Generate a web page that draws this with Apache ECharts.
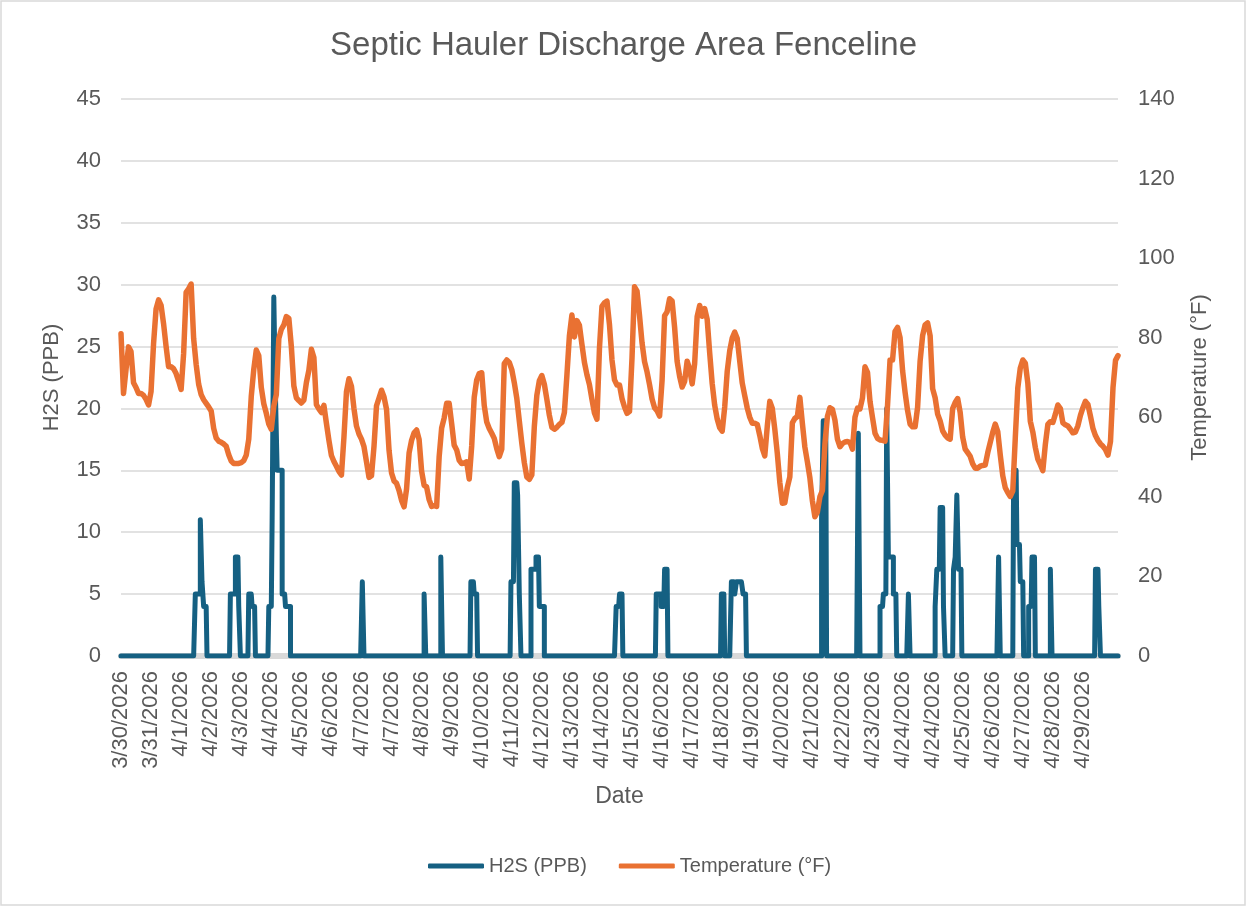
<!DOCTYPE html>
<html style="height: 100%">
<head>
<meta charset="utf-8">
<script type="text/javascript" src="https://cdn.jsdelivr.net/npm/echarts@6.0.0/dist/echarts.min.js"></script>
</head>
<body style="height: 100%; margin: 0">
<div id="container" style="width: 1247px; height: 907px"></div>
<script type="text/javascript">
var chartTitle = 'Septic Hauler Discharge Area Fenceline';

// one label every 12 temperature readings
var dateLabels = ['3/30/2026', '3/31/2026', '4/1/2026', '4/2/2026', '4/3/2026', '4/4/2026', '4/5/2026',
	'4/6/2026', '4/7/2026', '4/7/2026', '4/8/2026', '4/9/2026', '4/10/2026', '4/11/2026', '4/12/2026',
	'4/13/2026', '4/14/2026', '4/15/2026', '4/16/2026', '4/17/2026', '4/18/2026', '4/19/2026', '4/20/2026',
	'4/21/2026', '4/22/2026', '4/23/2026', '4/24/2026', '4/24/2026', '4/25/2026', '4/26/2026', '4/27/2026',
	'4/28/2026', '4/29/2026'];
var perLabel = 12;

var tempF = [
	81, 66, 72, 77.7, 76.5, 68.7, 67.5, 66, 66, 65.5,
	64.5, 63.1, 66.5, 78.5, 87.2, 89.5, 88.1, 83.5, 77.8, 72.7,
	72.7, 72.2, 71, 69.1, 67, 76, 91.4, 92.3, 93.5, 79.8,
	73.3, 68.3, 65.7, 64.4, 63.5, 62.6, 61.6, 57.2, 54.8, 54,
	53.7, 53.3, 52.7, 50.6, 49, 48.4, 48.4, 48.4, 48.6, 49.1,
	50.5, 54.5, 65.2, 72, 76.9, 75.5, 67.5, 63.4, 61, 58.3,
	57, 62.8, 65.7, 79.8, 82.1, 83.2, 85.3, 84.9, 77.8, 67.9,
	64.9, 64.2, 63.6, 64.3, 68.7, 71.8, 77.1, 75, 63.2, 62.1,
	61.2, 63, 58.5, 54.2, 50.4, 48.9, 47.7, 46.4, 45.5, 55,
	66.4, 69.7, 67.8, 62.2, 57.8, 55.8, 54.5, 52.6, 48.8, 44.9,
	45.3, 52.7, 62.9, 64.8, 66.8, 65.1, 62, 51.7, 46, 44,
	43.4, 41.6, 39.1, 37.5, 42, 51, 54.2, 56.1, 56.8, 54.4,
	46.5, 42.9, 42.5, 39.3, 37.6, 37.8, 37.6, 50, 57.3, 59.8,
	63.5, 63.5, 58.4, 53, 51.8, 49.2, 48.4, 48.5, 48.8, 44.5,
	52.8, 65, 69.4, 71, 71.2, 63, 58.8, 57.2, 56, 54.7,
	52.1, 50.1, 52, 73.5, 74.4, 73.8, 72, 68.7, 64.8, 59.1,
	53.5, 48.6, 45, 44.4, 45.5, 57.7, 65.5, 69.2, 70.5, 68.3,
	64.5, 60.5, 57.5, 57, 57.5, 58.2, 58.7, 61.2, 70.5, 80.5,
	85.7, 80.2, 84.3, 83.1, 78.3, 73.8, 70.7, 68.2, 64.5, 61.1,
	59.5, 77.3, 87.9, 88.8, 89.2, 83.3, 74.4, 69.4, 68.1, 68.1,
	64.7, 62.6, 61, 61.5, 75, 92.8, 91.7, 85.5, 78.7, 74,
	71.4, 68.2, 64.6, 62.4, 61.6, 60.3, 69.3, 85.5, 86.5, 89.8,
	89.2, 82.6, 74.1, 70.3, 67.6, 69, 74.1, 72.1, 68.4, 73.5,
	85.3, 88.1, 85.4, 87.3, 84.6, 76.2, 68.5, 63, 59.6, 57.4,
	56.5, 62.6, 71.5, 76.7, 79.9, 81.4, 79.8, 74.1, 68.6, 65.4,
	62.3, 60, 58.5, 58.5, 58.2, 55.4, 52.2, 50.3, 57.8, 64,
	62.2, 57, 50.9, 43.6, 38.4, 38.5, 42.4, 45, 58.6, 59.7,
	60.2, 65, 58.5, 52.5, 48.8, 44.8, 39, 35, 36.2, 40,
	41.6, 53.2, 60.2, 62.4, 62, 59.3, 54.5, 52.6, 53.4, 53.8,
	53.9, 53.7, 52, 60, 62.3, 62.1, 64.9, 72.7, 71.3, 64,
	59.9, 56, 54.7, 54.3, 54.2, 54, 63, 74.4, 74.4, 81.6,
	82.6, 80, 71.8, 66.3, 61.7, 58.3, 57.6, 57.6, 62.5, 74.1,
	80.5, 83.2, 83.7, 80.5, 67.2, 64.9, 60.8, 59.1, 56.6, 55.5,
	54.8, 54.5, 62.2, 63.7, 64.7, 61.2, 55, 52, 51.1, 50.2,
	48.3, 47.2, 47.2, 47.7, 47.9, 48, 51.1, 53.7, 56.2, 58.3,
	56.4, 50.5, 45.3, 42.3, 41.1, 40.1, 41.5, 54.8, 67.4, 72.4,
	74.4, 73.6, 68.6, 59, 56.3, 52.4, 49.5, 48.1, 46.6, 53.2,
	58.2, 58.9, 58.7, 60.8, 63.1, 62.2, 58.6, 58.1, 57.8, 57,
	56.1, 56.3, 57.9, 60.5, 62.4, 64, 63.2, 60.3, 57.2, 55.4,
	54.2, 53.3, 52.7, 51.9, 50.5, 53.9, 67.4, 74.3, 75.5
];

// H2S readings over the same span (598 in all); readings not listed are 0 ppb
var h2sCount = 598;
var h2sReadings = [
	[45, 5], [46, 5], [47, 5], [48, 11], [49, 6], [50, 4], [51, 4],
	[66, 5], [67, 5], [68, 5], [69, 8], [70, 8], [71, 4],
	[77, 5], [78, 5], [79, 4], [80, 4],
	[89, 4], [90, 4], [91, 11], [92, 29], [93, 21], [94, 15], [95, 15], [96, 15], [97, 5], [98, 5], [99, 4], [100, 4], [101, 4],
	[145, 6],
	[182, 5],
	[192, 8],
	[210, 6], [211, 6], [212, 5], [213, 5],
	[234, 6], [235, 6], [236, 14], [237, 14], [238, 13], [239, 5],
	[246, 7], [247, 7], [248, 7], [249, 8], [250, 8], [251, 4], [252, 4], [253, 4],
	[297, 4], [298, 4], [299, 5], [300, 5],
	[321, 5], [322, 5], [323, 5], [324, 4], [325, 4], [326, 7], [327, 7],
	[360, 5], [361, 5],
	[366, 6], [367, 6], [368, 5], [369, 6], [370, 6], [371, 6], [372, 6], [373, 5], [374, 5],
	[420, 11], [421, 19], [422, 19],
	[442, 18],
	[455, 4], [456, 4], [457, 5], [458, 5], [459, 20], [460, 8], [461, 8], [462, 8], [463, 5], [464, 5],
	[472, 5],
	[488, 4], [489, 7], [490, 7], [491, 12], [492, 12], [493, 4],
	[499, 7], [500, 8], [501, 13], [502, 7], [503, 7],
	[526, 8],
	[535, 15], [536, 15], [537, 9], [538, 9], [539, 6], [540, 6],
	[544, 4], [545, 4], [546, 8], [547, 8],
	[557, 7],
	[584, 7], [585, 7], [586, 4]
];

var tempCats = [];
for (var i = 0; i < tempF.length; i++) {
	tempCats.push(dateLabels[Math.min(Math.floor(i / perLabel), dateLabels.length - 1)]);
}
var h2sCats = [], h2s = [];
for (var j = 0; j < h2sCount; j++) {
	h2sCats.push(String(j));
	h2s.push(0);
}
for (var k = 0; k < h2sReadings.length; k++) {
	h2s[h2sReadings[k][0]] = h2sReadings[k][1];
}

var font = "'Liberation Sans', Arial, sans-serif";
var grey = '#595959';
var chart = echarts.init(document.getElementById('container'));
var option = {
	animation: false,
	backgroundColor: '#ffffff',
	textStyle: {fontFamily: font},
	title: {
		text: chartTitle, left: 'center', top: 24,
		textStyle: {fontSize: 33, fontWeight: 'normal', color: grey, fontFamily: font}
	},
	legend: {
		data: ['H2S (PPB)', 'Temperature (°F)'],
		left: 423, top: 851,
		icon: 'roundRect', itemWidth: 56, itemHeight: 5, itemGap: 32,
		textStyle: {fontSize: 20, color: grey, fontFamily: font}
	},
	grid: {left: 121, right: 129, top: 99, bottom: 251, outerBoundsMode: 'none'},
	xAxis: [{
		type: 'category', data: tempCats, boundaryGap: false, offset: 4,
		name: 'Date', nameLocation: 'middle', nameGap: 125,
		nameTextStyle: {fontSize: 23, color: grey, fontFamily: font},
		axisLine: {lineStyle: {color: '#d9d9d9', width: 6}},
		axisTick: {show: false},
		splitLine: {show: false},
		axisLabel: {
			rotate: 90, fontSize: 22, color: grey, margin: 11, fontFamily: font, hideOverlap: false,
			interval: function (index) {
				return index % perLabel === 0 && index / perLabel < dateLabels.length;
			}
		}
	}, {
		type: 'category', data: h2sCats, boundaryGap: false, show: false
	}],
	yAxis: [{
		type: 'value', min: 0, max: 45, interval: 5,
		name: 'H2S (PPB)', nameLocation: 'middle', nameGap: 58, nameRotate: 90,
		nameTextStyle: {fontSize: 22, color: grey, fontFamily: font},
		axisLine: {show: false}, axisTick: {show: false},
		axisLabel: {fontSize: 22, color: grey, margin: 20, fontFamily: font},
		splitLine: {lineStyle: {color: '#d9d9d9', width: 1.5}}
	}, {
		type: 'value', min: 0, max: 140, interval: 20, position: 'right',
		name: 'Temperature (°F)', nameLocation: 'middle', nameGap: 71, nameRotate: 90,
		nameTextStyle: {fontSize: 22, color: grey, fontFamily: font},
		axisLine: {show: false}, axisTick: {show: false},
		axisLabel: {fontSize: 22, color: grey, margin: 20, fontFamily: font},
		splitLine: {show: false}
	}],
	series: [{
		name: 'H2S (PPB)', type: 'line', data: h2s, step: 'middle',
		xAxisIndex: 1, yAxisIndex: 0,
		symbol: 'none', color: '#156082',
		lineStyle: {width: 5, color: '#156082', cap: 'round', join: 'round'}
	}, {
		name: 'Temperature (°F)', type: 'line', data: tempF,
		xAxisIndex: 0, yAxisIndex: 1,
		symbol: 'none', color: '#E97132',
		lineStyle: {width: 5.5, color: '#E97132', cap: 'round', join: 'round'}
	}],
	graphic: [{
		type: 'rect', silent: true,
		shape: {x: 1, y: 1, width: 1244, height: 904},
		style: {fill: 'none', stroke: '#d9d9d9', lineWidth: 1.5}
	}]
};
chart.setOption(option);
</script>
</body>
</html>
